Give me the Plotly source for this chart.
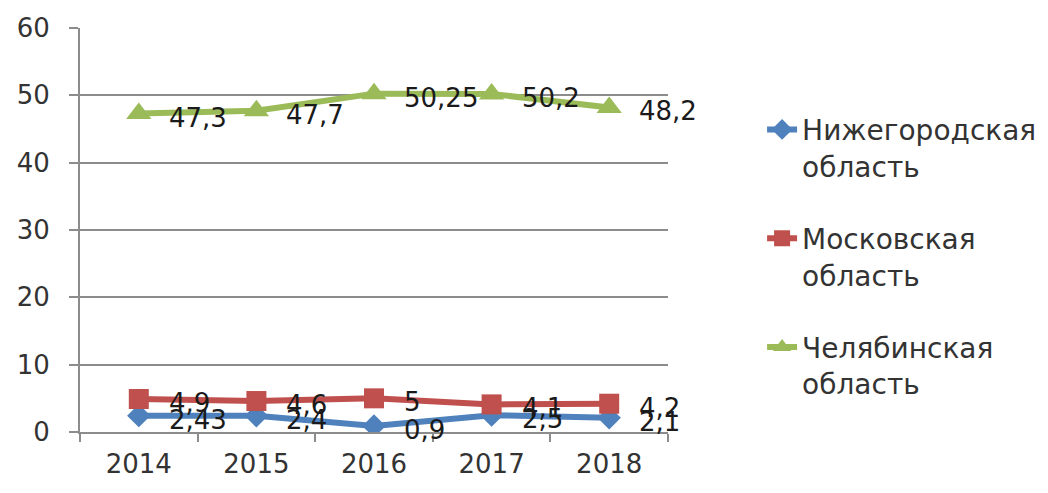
import plotly.graph_objects as go

years = ["2014", "2015", "2016", "2017", "2018"]
nizhny = [2.43, 2.4, 0.9, 2.5, 2.1]
moscow = [4.9, 4.6, 5, 4.1, 4.2]
chelyabinsk = [47.3, 47.7, 50.25, 50.2, 48.2]
names = ["Нижегородская<br>область", "Московская<br>область", "Челябинская<br>область"]

colors = ["#4F81BD", "#C0504D", "#9BBB59"]
symbols = ["diamond", "square", "triangle-up"]
sizes = [18, 20, 22]

def fmt(v):
    return str(v).replace(".", ",")

FONT = "DejaVu Sans"
fig = go.Figure()
for i, (name, vals, c, s, sz) in enumerate(zip(names, [nizhny, moscow, chelyabinsk], colors, symbols, sizes)):
    fig.add_trace(go.Scatter(
        x=years, y=vals, name=name, mode="lines+markers",
        legendgroup=f"g{i}",
        line=dict(color=c, width=6),
        marker=dict(symbol=s, size=sz, color=c),
    ))
    # category axis: annotations use the category index
    for k, yv in enumerate(vals):
        fig.add_annotation(x=k, y=yv, text=fmt(yv), showarrow=False,
                           xanchor="left", yanchor="middle", xshift=28, yshift=-4,
                           font=dict(family=FONT, size=26, color="#1a1a1a"))

fig.update_layout(
    width=1048, height=493,
    margin=dict(l=80, r=380, t=28, b=61, autoexpand=False),
    paper_bgcolor="white", plot_bgcolor="white",
    font=dict(family=FONT, size=26, color="#333333"),
    legend=dict(x=1.16, y=0.81, xanchor="left", yanchor="top",
                valign="top", tracegroupgap=33, traceorder="grouped",
                font=dict(family=FONT, size=28, color="#333333")),
    showlegend=True,
)
fig.update_xaxes(type="category", categoryorder="array", categoryarray=years,
                 range=[-0.5, len(years) - 0.5],
                 showline=True, linecolor="#8c8c8c", linewidth=2,
                 ticks="outside", ticklen=8, tickcolor="#8c8c8c", tickwidth=2,
                 tickson="boundaries", showgrid=False, ticklabelstandoff=8, tickangle=0,
                 tickfont=dict(family=FONT, size=26, color="#333333"))
fig.update_yaxes(range=[0, 60], dtick=10, showline=True, linecolor="#8c8c8c", linewidth=2,
                 ticks="outside", ticklen=9, tickcolor="#8c8c8c", tickwidth=2,
                 showgrid=True, gridcolor="#8c8c8c", gridwidth=2, zeroline=False,
                 ticklabelstandoff=14,
                 tickfont=dict(family=FONT, size=26, color="#333333"))

fig.write_html("out.html", config={"displayModeBar": False},
               post_script="document.body.style.margin='0';")
